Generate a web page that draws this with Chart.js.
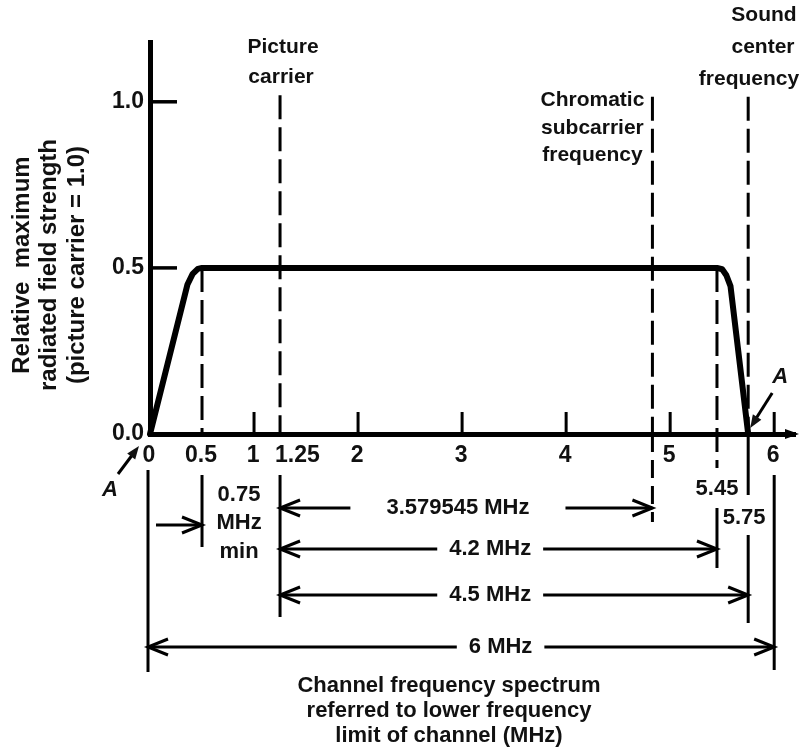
<!DOCTYPE html>
<html><head><meta charset="utf-8">
<script src="https://cdn.jsdelivr.net/npm/chart.js@4.4.0/dist/chart.umd.min.js"></script>
<style>html,body{margin:0;padding:0;background:#fff}#wrap{width:804px;height:755px}</style>
</head><body><div id="wrap"><canvas id="c" width="804" height="755"></canvas></div>
<script>
// ---- data ----
const envelopeFreq     = [0, 0.36, 0.41, 0.46, 0.5, 5.45, 5.5, 5.54, 5.58, 5.75];
const envelopeStrength = [0, 0.45, 0.482, 0.497, 0.5, 0.5, 0.496, 0.478, 0.445, 0];
const xTickValues = [0, 0.5, 1, 1.25, 2, 3, 4, 5, 6];
const xTickLabels = ['0', '0.5', '1', '1.25', '2', '3', '4', '5', '6'];
const xInnerTicks = [1, 2, 3, 4, 5, 6];
const yTickValues = [0, 0.5, 1.0];
const yTickLabels = ['0.0', '0.5', '1.0'];
const yInnerTicks = [0.5, 1.0];
const markerFreqs = [0.5, 1.25, 4.829545, 5.45, 5.75];
const markerTops  = [0.5, 1.02, 1.015, 0.5, 1.015];
const spanLabels = ['3.579545 MHz', '4.2 MHz', '4.5 MHz', '6 MHz'];
const spanFrom   = [1.25, 1.25, 1.25, 0];
const spanTo     = [4.829545, 5.45, 5.75, 6];
const yTitle = ['Relative  maximum', 'radiated field strength', '(picture carrier = 1.0)'];
const xTitle = ['Channel frequency spectrum', 'referred to lower frequency', 'limit of channel (MHz)'];

const FONT = '"Liberation Sans", Arial, sans-serif';
function txt(ctx, s, x, y, size, align, weight) {
  ctx.font = (weight || 'bold') + ' ' + size + 'px ' + FONT;
  ctx.textAlign = align || 'center';
  ctx.textBaseline = 'middle';
  ctx.fillStyle = '#111';
  ctx.fillText(s, x, y);
}
function seg(ctx, x1, y1, x2, y2) { ctx.beginPath(); ctx.moveTo(x1, y1); ctx.lineTo(x2, y2); ctx.stroke(); }
function openHead(ctx, x, y, dir) { // dir=+1 points right, -1 points left
  ctx.beginPath();
  ctx.moveTo(x - dir * 20, y - 8); ctx.lineTo(x, y); ctx.lineTo(x - dir * 20, y + 8);
  ctx.stroke();
}
function filledHead(ctx, tx, ty, fx, fy, len, hw) {
  const a = Math.atan2(ty - fy, tx - fx);
  ctx.beginPath();
  ctx.moveTo(tx, ty);
  ctx.lineTo(tx - len * Math.cos(a) + hw * Math.sin(a), ty - len * Math.sin(a) - hw * Math.cos(a));
  ctx.lineTo(tx - len * Math.cos(a) - hw * Math.sin(a), ty - len * Math.sin(a) + hw * Math.cos(a));
  ctx.closePath(); ctx.fill();
}

const annot = {
  id: 'annot',
  beforeDatasetsDraw(chart) {
    const { ctx, scales: { x, y } } = chart;
    const y0 = y.getPixelForValue(0);
    ctx.save();
    ctx.strokeStyle = '#000'; ctx.lineWidth = 3; ctx.setLineDash([24, 8]);
    markerFreqs.forEach((f, i) => {
      const px = x.getPixelForValue(f);
      seg(ctx, px, y.getPixelForValue(markerTops[i]), px, y0);
    });
    ctx.restore();
  },
  afterDatasetsDraw(chart) {
    const { ctx, scales: { x, y } } = chart;
    const y0 = y.getPixelForValue(0);
    const xl = x.getPixelForValue(0);
    const P = v => x.getPixelForValue(v);
    ctx.save();
    ctx.strokeStyle = '#000'; ctx.fillStyle = '#000'; ctx.lineCap = 'butt';

    // inner tick marks
    ctx.lineWidth = 3.5;
    yInnerTicks.forEach(v => { const py = y.getPixelForValue(v); seg(ctx, xl, py, xl + 27, py); });
    ctx.lineWidth = 3;
    xInnerTicks.forEach(v => { const px = P(v); seg(ctx, px, y0, px, y0 - 22); });

    // x-axis arrow end
    filledHead(ctx, chart.chartArea.right + 4, y0, chart.chartArea.right - 10, y0, 14, 5);

    // x tick labels
    xTickValues.forEach((v, i) => {
      const lab = xTickLabels[i];
      if (lab === '1.25') txt(ctx, lab, P(v) - 5, y0 + 22, 23, 'left');
      else txt(ctx, lab, P(v) - 1, y0 + 22, 23, 'center');
    });

    // leader lines below axis
    ctx.lineWidth = 3; ctx.setLineDash([]);
    seg(ctx, P(0) - 2, y0 + 36, P(0) - 2, y0 + 238);
    seg(ctx, P(0.5), y0 + 41, P(0.5), y0 + 113);
    seg(ctx, P(1.25), y0 + 41, P(1.25), y0 + 183);
    seg(ctx, P(5.45), y0 + 74, P(5.45), y0 + 134);
    seg(ctx, P(5.75), y0, P(5.75), y0 + 61);
    seg(ctx, P(5.75), y0 + 101, P(5.75), y0 + 189);
    seg(ctx, P(6), y0 + 41, P(6), y0 + 236);
    ctx.setLineDash([18, 8]);
    seg(ctx, P(4.829545), y0, P(4.829545), y0 + 88);
    seg(ctx, P(5.45), y0, P(5.45), y0 + 34);
    ctx.setLineDash([]);

    // values under the axis
    txt(ctx, '5.45', P(5.45), y0 + 55, 22);
    txt(ctx, '5.75', P(5.75) - 4, y0 + 84, 22);

    // 0.75 MHz min
    const v75 = y0 + 91;
    seg(ctx, P(0) + 6, v75, P(0.5), v75); openHead(ctx, P(0.5), v75, 1);
    const cx75 = (P(0.5) + P(1.25)) / 2 - 2;
    txt(ctx, '0.75', cx75, y0 + 61, 22);
    txt(ctx, 'MHz', cx75, y0 + 89, 22);
    txt(ctx, 'min', cx75, y0 + 118, 22);

    // span arrows
    const spanY = [y0 + 74, y0 + 115, y0 + 161, y0 + 213];
    const spanCx = [P(2.96), P(3.27), P(3.27), P(3.37)];
    const spanGap = [36, 12, 12, 12];
    spanLabels.forEach((lab, i) => {
      ctx.font = 'bold 22px ' + FONT;
      const w = ctx.measureText(lab).width;
      const a = P(spanFrom[i]) + (spanFrom[i] === 0 ? -2 : 0), b = P(spanTo[i]), yy = spanY[i];
      txt(ctx, lab, spanCx[i], yy, 22);
      ctx.lineWidth = 3;
      seg(ctx, a, yy, spanCx[i] - w / 2 - spanGap[i], yy);
      seg(ctx, spanCx[i] + w / 2 + spanGap[i], yy, b, yy);
      openHead(ctx, a, yy, -1); openHead(ctx, b, yy, 1);
    });

    // "A" pointers
    const ax0 = P(0), ax1 = P(5.75);
    ctx.lineWidth = 3;
    seg(ctx, ax0 - 32, y0 + 40, ax0 - 14, y0 + 16);
    filledHead(ctx, ax0 - 11, y0 + 12, ax0 - 32, y0 + 40, 13, 5);
    txt(ctx, 'A', ax0 - 40, y0 + 56, 22, 'center', 'italic bold');
    seg(ctx, ax1 + 24, y0 - 41, ax1 + 5, y0 - 11);
    filledHead(ctx, ax1 + 2, y0 - 6, ax1 + 24, y0 - 41, 13, 5);
    txt(ctx, 'A', ax1 + 32, y0 - 57, 22, 'center', 'italic bold');

    // marker captions
    txt(ctx, 'Picture', P(1.25) + 3, 47, 21);
    txt(ctx, 'carrier', P(1.25) + 1, 77, 21);
    const cxC = P(4.829545) - 60;
    txt(ctx, 'Chromatic', cxC, 100, 21);
    txt(ctx, 'subcarrier', cxC, 128, 21);
    txt(ctx, 'frequency', cxC, 155, 21);
    txt(ctx, 'Sound', 764, 15, 21);
    txt(ctx, 'center', 763, 47, 21);
    txt(ctx, 'frequency', 749, 79, 21);

    // axis titles
    xTitle.forEach((s, i) => txt(ctx, s, 449, 686 + i * 25, 22));
    yTitle.forEach((s, i) => {
      ctx.save();
      ctx.translate(22 + i * 27.5, 265);
      ctx.rotate(-Math.PI / 2);
      txt(ctx, s, 0, 0, 24);
      ctx.restore();
    });
    ctx.restore();
  }
};

new Chart(document.getElementById('c'), {
  type: 'scatter',
  data: {
    datasets: [{
      data: envelopeFreq.map((f, i) => ({ x: f, y: envelopeStrength[i] })),
      showLine: true, borderColor: '#000', borderWidth: 6, pointRadius: 0,
      borderJoinStyle: 'round', borderCapStyle: 'round', tension: 0, clip: false
    }]
  },
  options: {
    responsive: false, animation: false, events: [],
    layout: { padding: { left: 90, right: 9, top: 42, bottom: 321 } },
    plugins: { legend: { display: false }, tooltip: { enabled: false } },
    scales: {
      x: {
        type: 'linear', min: 0, max: 6.2,
        ticks: { display: false },
        grid: { display: false, drawTicks: false, tickLength: 0 },
        border: { display: true, color: '#000', width: 5 }
      },
      y: {
        type: 'linear', min: 0, max: 1.18,
        afterBuildTicks: s => { s.ticks = yTickValues.map(v => ({ value: v })); },
        afterFit: s => { s.width = 60; },
        ticks: {
          display: true, color: '#111', padding: 6,
          font: { family: FONT, size: 23, weight: 'bold' },
          callback: (v, i) => yTickLabels[i]
        },
        grid: { display: false, drawTicks: false, tickLength: 0 },
        border: { display: true, color: '#000', width: 5 }
      }
    }
  },
  plugins: [annot]
});
</script>
</body></html>
